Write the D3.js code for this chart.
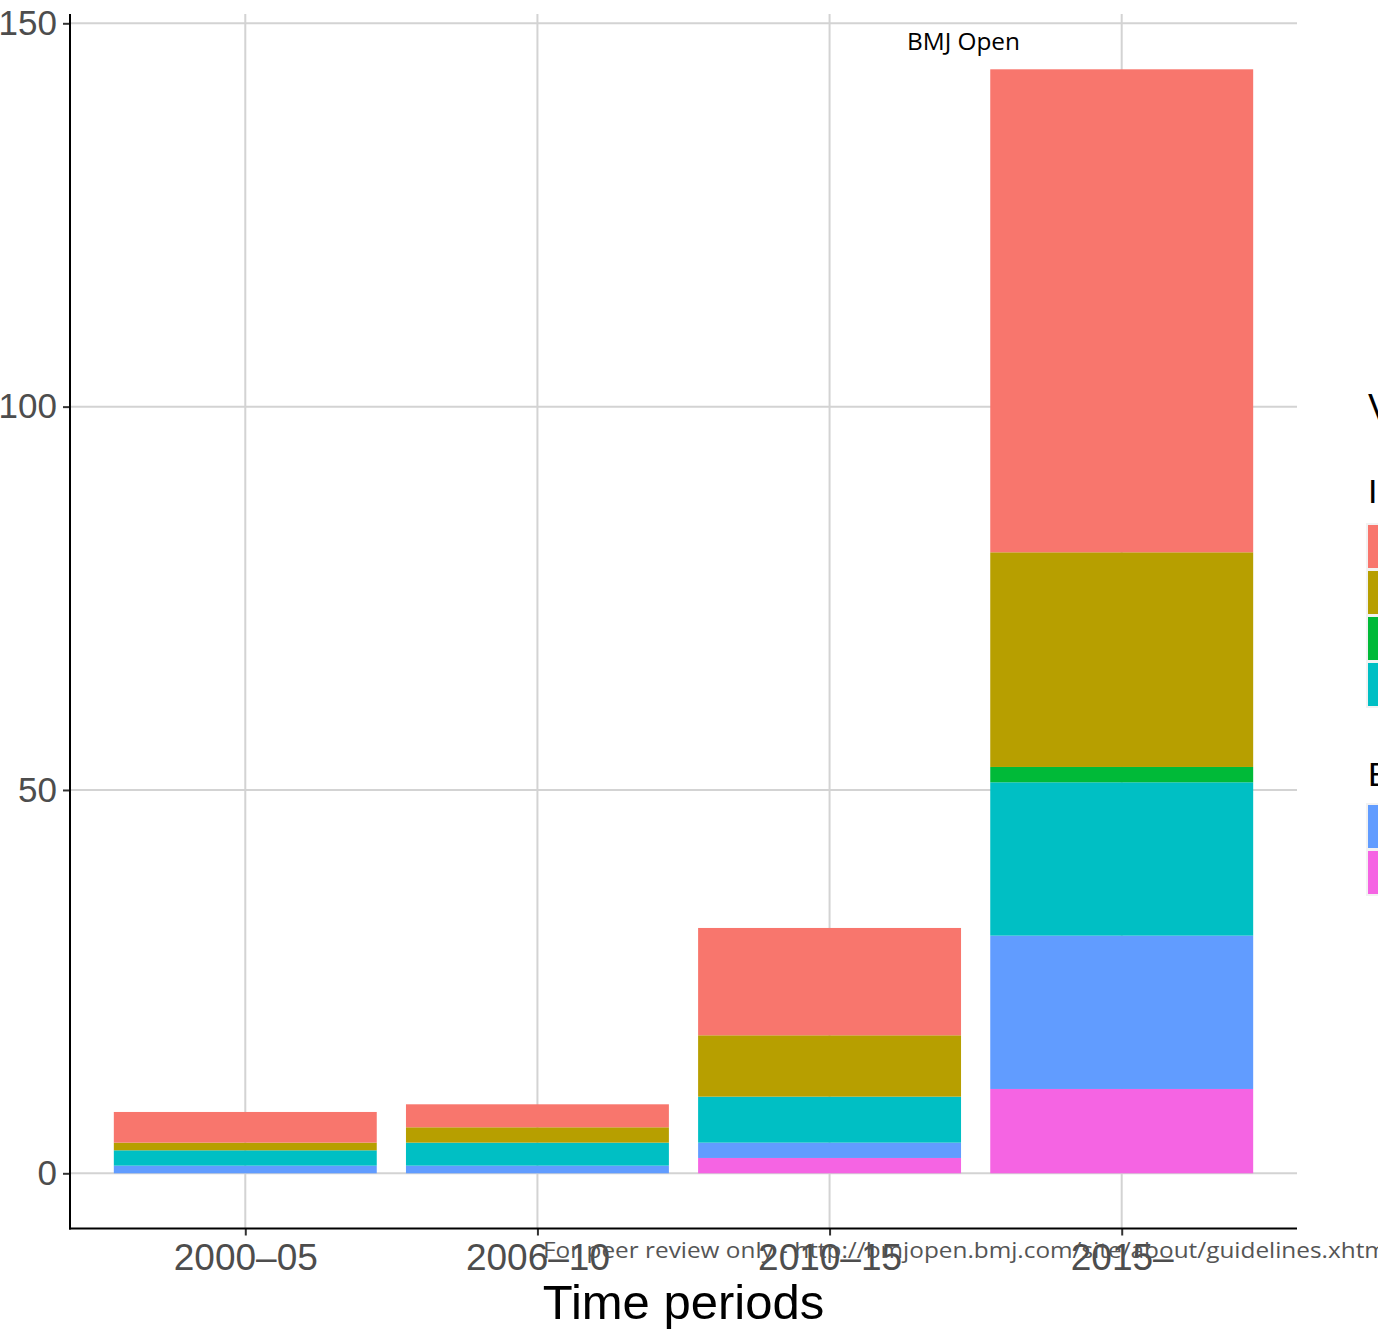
<!DOCTYPE html>
<html>
<head>
<meta charset="utf-8">
<script src="https://cdn.jsdelivr.net/npm/d3@7"></script>
<style>
html,body{margin:0;padding:0;background:#fff;overflow:hidden;}
svg{display:block;}
</style>
</head>
<body>
<svg id="chart" width="1378" height="1337"></svg>
<script>
// ---- data ----
const periods = ["2000\u201305", "2006\u201310", "2010\u201315", "2015\u2013"];
const seriesKeys = ["Random split", "Cross-validation", "Bootstrapping", "Other internal", "Temporal", "Geographical"];
const seriesColors = ["#F8766D", "#B79F00", "#00BA38", "#00BFC4", "#619CFF", "#F564E3"];
// stacking order bottom -> top
const stackOrder = ["Geographical", "Temporal", "Other internal", "Bootstrapping", "Cross-validation", "Random split"];
const valRandom = [4, 3, 14, 63];
const valCross = [1, 2, 8, 28];
const valBoot = [0, 0, 0, 2];
const valOther = [2, 3, 6, 20];
const valTemporal = [1, 1, 2, 20];
const valGeo = [0, 0, 2, 11];
const yTicks = [0, 50, 100, 150];
const legendTitle = "Validation";
const legendGroups = [
  {title: "Internal validation", keys: ["Random split", "Cross-validation", "Bootstrapping", "Other internal"]},
  {title: "External validation", keys: ["Temporal", "Geographical"]}
];

const rows = periods.map((p, i) => ({
  period: p,
  "Random split": valRandom[i],
  "Cross-validation": valCross[i],
  "Bootstrapping": valBoot[i],
  "Other internal": valOther[i],
  "Temporal": valTemporal[i],
  "Geographical": valGeo[i]
}));

const color = d3.scaleOrdinal().domain(seriesKeys).range(seriesColors);

const svg = d3.select("#chart");
const pLeft = 70, pRight = 1297, pTop = 14.1, pBottom = 1228.5;

// ggplot-style discrete scale: expansion 0.6 on each side, bar width 0.9
const step = (pRight - pLeft) / 4.2;
const x = d3.scalePoint().domain(periods).range([pLeft + 0.6 * step, pRight - 0.6 * step]);
const bw = step * 0.9;

const y = d3.scaleLinear().domain([-7.2, 151.2]).range([pBottom, pTop]);

// gridlines
const grid = svg.append("g");
grid.selectAll("line.h").data(yTicks).enter().append("line")
  .attr("x1", pLeft).attr("x2", pRight)
  .attr("y1", d => y(d)).attr("y2", d => y(d))
  .attr("stroke", "#d3d3d3").attr("stroke-width", 2);
grid.selectAll("line.v").data(periods).enter().append("line")
  .attr("x1", d => x(d)).attr("x2", d => x(d))
  .attr("y1", pTop).attr("y2", pBottom)
  .attr("stroke", "#d3d3d3").attr("stroke-width", 2);

// bars
const stack = d3.stack().keys(stackOrder)(rows);
svg.append("g").selectAll("g").data(stack).enter().append("g")
  .attr("fill", d => color(d.key))
  .selectAll("rect").data(d => d).enter().append("rect")
  .attr("x", d => x(d.data.period) - bw / 2)
  .attr("width", bw)
  .attr("y", d => y(d[1]))
  .attr("height", d => Math.max(0, y(d[0]) - y(d[1])));

// axes
const yAxis = d3.axisLeft(y).tickValues(yTicks).tickSize(7).tickPadding(6);
const gy = svg.append("g").attr("transform", `translate(${pLeft},0)`).call(yAxis);
gy.select(".domain").remove();
gy.selectAll(".tick line").attr("stroke", "#333").attr("stroke-width", 2);
gy.selectAll(".tick text").attr("fill", "#4d4d4d").attr("font-size", 35)
  .attr("font-family", "Liberation Sans, Arial, sans-serif");

const xAxis = d3.axisBottom(x).tickSize(7).tickPadding(8);
const gx = svg.append("g").attr("transform", `translate(0,${pBottom})`).call(xAxis);
gx.select(".domain").remove();
gx.selectAll(".tick line").attr("stroke", "#333").attr("stroke-width", 2);
gx.selectAll(".tick text").attr("fill", "#4d4d4d").attr("font-size", 37)
  .attr("font-family", "Liberation Sans, Arial, sans-serif");

svg.append("line").attr("x1", pLeft).attr("x2", pLeft).attr("y1", pTop).attr("y2", pBottom + 1)
  .attr("stroke", "#000").attr("stroke-width", 2);
svg.append("line").attr("x1", pLeft - 1).attr("x2", pRight).attr("y1", pBottom).attr("y2", pBottom)
  .attr("stroke", "#000").attr("stroke-width", 2);

// axis title
svg.append("text").attr("x", (pLeft + pRight) / 2).attr("y", 1319)
  .attr("text-anchor", "middle").attr("font-size", 49)
  .attr("font-family", "Liberation Sans, Arial, sans-serif").attr("fill", "#000")
  .text("Time periods");

// legend (partly outside the page)
const lx = 1368;
svg.append("text").attr("x", lx).attr("y", 420).attr("font-size", 36)
  .attr("font-family", "Liberation Sans, Arial, sans-serif").text(legendTitle);
const gTitleY = [503, 786];
const swTop = [525, 805];
legendGroups.forEach((g, gi) => {
  svg.append("text").attr("x", lx).attr("y", gTitleY[gi]).attr("font-size", 34)
    .attr("font-family", "Liberation Sans, Arial, sans-serif").text(g.title);
  g.keys.forEach((k, ki) => {
    const yy = swTop[gi] + ki * 46;
    svg.append("rect").attr("x", lx - 2).attr("y", yy - 2).attr("width", 48).attr("height", 47).attr("fill", "#f2f2f2");
    svg.append("rect").attr("x", lx).attr("y", yy).attr("width", 44).attr("height", 43).attr("fill", color(k));
    svg.append("text").attr("x", lx + 56).attr("y", yy + 32).attr("font-size", 30)
      .attr("font-family", "Liberation Sans, Arial, sans-serif").text(k);
  });
});

// page annotations
svg.append("text").attr("x", 907).attr("y", 50).attr("font-size", 23)
  .attr("font-family", "Open Sans, sans-serif").attr("fill", "#000")
  .attr("textLength", 113).attr("lengthAdjust", "spacingAndGlyphs").text("BMJ Open");
svg.append("text").attr("x", 543).attr("y", 1258).attr("font-size", 22)
  .attr("font-family", "Open Sans, sans-serif").attr("fill", "#555")
  .attr("textLength", 850).attr("lengthAdjust", "spacingAndGlyphs")
  .text("For peer review only - http://bmjopen.bmj.com/site/about/guidelines.xhtml");
</script>
</body>
</html>
